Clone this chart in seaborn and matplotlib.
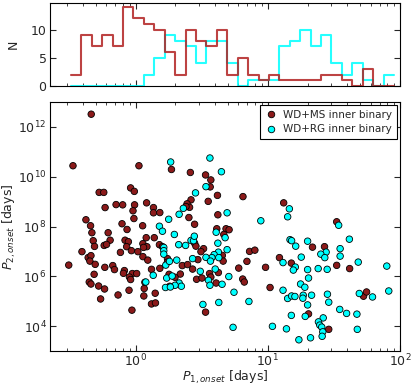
import numpy as np
import pandas as pd
import matplotlib
matplotlib.use("Agg")
import matplotlib.pyplot as plt
import matplotlib.ticker as mticker
import seaborn as sns

# ---------------- data (log10 of periods in days) ----------------
ms_logP1 = [-0.336, -0.474, 0.025, -0.276, -0.241, -0.038, -0.010, -0.231, -0.148, -0.098,
            -0.008, -0.020, 0.083, 0.135, 0.135, 0.183, -0.013, -0.376, -0.341, -0.103,
            0.053, 0.271, 0.414, 0.529, 0.569, 0.564, 0.419, 0.389, 0.408, 0.381,
            0.549, 0.619, 0.812, 0.403, 0.622, 0.446, 1.120, 1.521, -0.065, -0.331,
            -0.208, 0.080, 0.141, -0.321, -0.193, -0.080, -0.055, -0.311, -0.238, -0.220,
            -0.068, 0.055, 0.085, 0.060, -0.032, 0.017, -0.406, -0.115, 0.180, 0.203,
            -0.359, -0.338, -0.346, -0.306, 0.055, 0.092, -0.506, -0.233, -0.173, -0.160,
            -0.085, -0.092, -0.025, 0.008, -0.047, -0.038, -0.314, 0.120, 0.183, -0.351,
            -0.338, -0.280, -0.235, -0.265, -0.133, -0.050, 0.065, 0.070, 0.062, 0.148,
            0.120, 0.150, -0.028, 0.614, 0.684, 0.707, 0.667, 0.446, 0.456, 0.514,
            0.494, 0.656, 0.662, 0.862, 0.902, 0.842, 0.471, 0.241, 0.241, 0.353,
            0.393, 0.431, 0.626, 0.559, 0.569, 0.338, 0.298, 0.461, 0.502, 0.780,
            0.810, 0.822, 0.983, 1.088, 1.017, 0.609, 0.529, 0.253, 0.258, 1.338,
            1.429, 1.178, 1.521, 1.619, 1.724, 1.747, 1.308, 1.461]
ms_logP2 = [12.51, 10.44, 10.44, 9.37, 9.37, 9.55, 9.41, 8.76, 8.88, 8.87,
            8.87, 8.63, 8.95, 8.76, 8.55, 8.56, 8.32, 8.27, 8.03, 8.11,
            8.03, 10.29, 10.17, 10.07, 9.87, 9.59, 9.07, 8.91, 8.77, 8.80,
            9.01, 9.25, 9.20, 8.36, 8.47, 8.09, 8.95, 8.19, 7.88, 7.75,
            7.75, 7.55, 7.55, 7.43, 7.45, 7.45, 7.39, 7.20, 7.24, 7.28,
            7.19, 7.31, 7.19, 7.16, 7.03, 6.99, 6.99, 6.96, 7.27, 7.19,
            6.75, 6.83, 6.61, 6.48, 6.79, 6.65, 6.45, 6.36, 6.43, 6.27,
            6.23, 6.12, 6.11, 6.11, 5.97, 5.87, 6.08, 6.28, 6.32, 5.77,
            5.69, 5.61, 5.49, 5.09, 5.25, 5.44, 5.51, 5.76, 5.21, 5.32,
            4.89, 4.93, 4.64, 7.91, 7.91, 7.87, 7.68, 7.33, 7.21, 7.11,
            6.99, 6.84, 6.61, 7.00, 7.05, 6.60, 6.67, 6.71, 6.57, 6.43,
            6.47, 6.29, 6.15, 6.11, 5.97, 6.09, 5.96, 5.88, 5.93, 6.33,
            5.89, 5.77, 6.36, 6.75, 5.55, 5.73, 4.56, 6.08, 5.60, 7.17,
            7.19, 6.53, 6.44, 6.31, 5.20, 5.37, 4.49, 3.87]

rg_logP1 = [0.180, 0.265, 0.562, 0.649, 0.453, 0.532, 0.361, 0.329, 0.250, 0.692,
            0.947, 1.163, 1.150, 1.536, 0.203, 0.213, 0.213, 0.213, 0.228, 0.133,
            0.077, 0.235, 0.226, 0.293, 0.326, 0.378, 0.419, 0.438, 0.444, 0.622,
            0.626, 0.692, 0.594, 0.577, 0.532, 0.566, 0.629, 0.431, 0.311, 0.256,
            0.489, 0.602, 0.276, 0.705, 1.115, 1.115, 0.551, 0.562, 0.654, 0.329,
            0.346, 0.298, 0.263, 0.744, 0.509, 0.629, 0.857, 0.737, 1.035, 1.168,
            1.180, 1.211, 1.301, 1.617, 1.547, 1.441, 1.401, 1.431, 1.547, 1.253,
            1.208, 1.193, 1.301, 1.381, 1.449, 1.684, 1.900, 1.308, 1.248, 1.280,
            1.150, 1.180, 1.205, 1.268, 1.265, 1.331, 1.451, 1.461, 1.301, 1.692,
            1.792, 1.915, 1.544, 1.596, 1.674, 1.178, 1.283, 1.419, 1.383, 1.393,
            1.408, 1.416, 1.411, 1.141, 1.235, 1.323, 1.677, 0.609, 0.677]
rg_logP2 = [8.01, 10.59, 10.75, 10.20, 9.35, 9.60, 8.73, 8.49, 8.29, 8.55,
            8.23, 8.71, 8.39, 8.05, 7.81, 7.16, 7.03, 6.89, 6.45, 6.04,
            5.77, 5.93, 5.55, 7.68, 7.27, 7.24, 7.44, 7.43, 7.61, 7.33,
            6.97, 7.07, 6.87, 6.75, 6.76, 6.61, 6.75, 6.71, 6.65, 6.60,
            6.20, 6.29, 6.01, 5.99, 6.55, 5.44, 5.84, 5.64, 5.68, 5.73,
            5.60, 5.64, 5.57, 5.36, 4.87, 4.95, 4.99, 3.95, 3.99, 7.47,
            7.43, 7.21, 7.41, 7.49, 7.11, 6.97, 6.89, 6.75, 6.81, 6.77,
            6.37, 6.25, 6.27, 6.31, 6.28, 6.57, 6.41, 5.93, 5.69, 5.56,
            5.11, 5.21, 5.19, 5.24, 5.12, 5.24, 5.28, 4.96, 4.85, 5.31,
            5.17, 5.41, 4.67, 4.51, 4.48, 4.43, 4.39, 4.33, 4.17, 4.04,
            3.96, 3.77, 3.59, 3.89, 3.45, 3.53, 3.87, 7.77, 7.55]

# histogram (counts per log-spaced bin of P1; 31 bins from 10^-0.49 to 10^1.955)
hist_logrange = (-0.49, 1.955)
n_bins = 31
ms_counts = [2, 9, 7, 9, 7, 14, 12, 11, 10, 6, 2, 10, 8, 7, 10, 2, 5, 2, 1, 2,
             1, 1, 1, 1, 2, 2, 1, 0, 3, 0, 0]
rg_counts = [0, 0, 0, 0, 0, 0, 0, 2, 5, 9, 8, 7, 4, 8, 8, 4, 0, 1, 1, 1,
             7, 8, 10, 7, 9, 4, 2, 4, 1, 0, 2]

labels = ["WD+MS inner binary", "WD+RG inner binary"]
ms_fill = "#8B1A1A"
rg_fill = "#00FFFF"
ms_line = "#B22222"
rg_line = "#00FFFF"

# ---------------- style ----------------
sns.set_style("ticks")
plt.rcParams.update({
    "font.family": ["DejaVu Sans"],
    "font.size": 9,
    "xtick.direction": "in", "ytick.direction": "in",
    "xtick.top": True, "ytick.right": True,
    "xtick.major.size": 4, "ytick.major.size": 4,
    "xtick.minor.size": 2, "ytick.minor.size": 2,
    "xtick.major.pad": 1.5, "ytick.major.pad": 2.5,
    "xtick.labelsize": 9, "ytick.labelsize": 9,
    "axes.linewidth": 0.8,
    "axes.edgecolor": "black",
})

fig = plt.figure(figsize=(4.15, 3.86), dpi=100)
W, H = 415, 386
def rect(l, t, r, b):
    return [l / W, 1 - b / H, (r - l) / W, (b - t) / H]

ax_h = fig.add_axes(rect(50, 3, 400, 86))
ax = fig.add_axes(rect(50, 102, 400, 351))

xlim = (0.225, 100)

# ---------------- histogram ----------------
edges_log = np.linspace(hist_logrange[0], hist_logrange[1], n_bins + 1)
centers = 10 ** ((edges_log[:-1] + edges_log[1:]) / 2)
bw = (hist_logrange[1] - hist_logrange[0]) / n_bins
for counts, col in [(rg_counts, rg_line), (ms_counts, ms_line)]:
    hdf = pd.DataFrame({"P1": centers, "w": np.asarray(counts, dtype=float)})
    sns.histplot(data=hdf, x="P1", weights="w", binwidth=bw, binrange=hist_logrange,
                 log_scale=True, element="step", fill=False, color=col, linewidth=1.5,
                 alpha=0.85, ax=ax_h)
ax_h.set_xscale("log")
ax_h.set_xlim(*xlim)
ax_h.set_ylim(0, 14.7)
ax_h.yaxis.set_major_locator(mticker.FixedLocator([0, 5, 10]))
ax_h.yaxis.set_minor_locator(mticker.NullLocator())
ax_h.xaxis.set_major_locator(mticker.LogLocator(base=10))
ax_h.xaxis.set_minor_locator(mticker.LogLocator(base=10, subs=np.arange(2, 10)))
ax_h.tick_params(axis="x", which="both", bottom=True, top=True, direction="in",
                 labelbottom=False, labeltop=False)
ax_h.tick_params(axis="y", which="both", left=True, right=True, direction="in")
ax_h.set_xlabel("")
ax_h.set_ylabel("N", fontsize=9)
ax_h.yaxis.set_label_coords(-0.085, 0.5)

# ---------------- scatter ----------------
sdf = pd.DataFrame({
    "P1": np.concatenate([10 ** np.array(ms_logP1), 10 ** np.array(rg_logP1)]),
    "P2": np.concatenate([10 ** np.array(ms_logP2), 10 ** np.array(rg_logP2)]),
    "grp": [labels[0]] * len(ms_logP1) + [labels[1]] * len(rg_logP1),
})
sns.scatterplot(data=sdf, x="P1", y="P2", hue="grp", hue_order=labels,
                palette=[ms_fill, rg_fill], s=22, edgecolor="black", linewidth=0.6,
                ax=ax, zorder=3)
ax.set_xscale("log")
ax.set_yscale("log")
ax.set_xlim(*xlim)
ax.set_ylim(1e3, 1e13)
ax.yaxis.set_major_locator(mticker.FixedLocator([1e4, 1e6, 1e8, 1e10, 1e12]))
ax.yaxis.set_minor_locator(mticker.NullLocator())
ax.xaxis.set_major_locator(mticker.LogLocator(base=10))
ax.xaxis.set_minor_locator(mticker.LogLocator(base=10, subs=np.arange(2, 10)))
ax.xaxis.set_minor_formatter(mticker.NullFormatter())
ax.tick_params(axis="both", which="both", bottom=True, top=True, left=True, right=True,
               direction="in")
ax.set_xlabel(r"$P_{1,onset}$ [days]", fontsize=9)
ax.xaxis.set_label_coords(0.5, -0.07)
ax.set_ylabel(r"$P_{2,onset}$ [days]", fontsize=9)
ax.yaxis.set_label_coords(-0.09, 0.5)

h, l = ax.get_legend_handles_labels()
leg = ax.legend(h, l, loc="upper right", fontsize=7.5, frameon=True, fancybox=False,
                edgecolor="black", framealpha=1, borderpad=0.45, handletextpad=0.6,
                labelspacing=0.45, borderaxespad=0.3, handlelength=1.2)
leg.get_frame().set_linewidth(0.8)

fig.savefig("out.png", dpi=100)
